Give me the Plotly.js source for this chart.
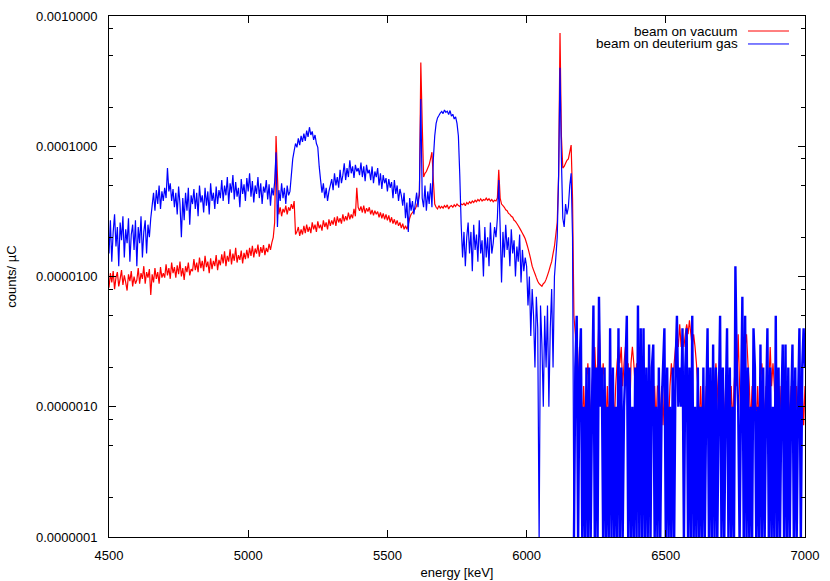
<!DOCTYPE html>
<html>
<head>
<meta charset="utf-8">
<script src="https://cdn.plot.ly/plotly-3.0.1.min.js"></script>
<style>
body { margin: 0; background: #fff; }
#myDiv { width: 830px; height: 581px; }
</style>
</head>
<body>
<div id="myDiv"></div>
<script>
// energy grid in keV: 5 keV channels from 4500 to 7000
var eStart = 4500, eStep = 5;
// above this energy the spectra are only a few counts per channel
var tailStart = 6170;

// counts per uC, in units of 1e-6 (0 = empty channel); one row = 100 keV
var vacuum = [
    8.2, 10.6, 9.0, 11.0, 8.0, 9.8, 10.8, 8.4, 9.6, 11.2, 8.6, 10.2, 9.0, 7.8, 10.4, 9.2, 11.0, 8.4, 10.0, 8.8,
    9.4, 11.6, 8.8, 10.6, 9.6, 12.0, 8.8, 10.8, 9.8, 11.4, 7.2, 10.4, 9.0, 11.6, 9.6, 10.8, 8.8, 11.8, 9.8, 10.6,
    9.8, 12.4, 10.2, 11.6, 9.6, 12.8, 10.6, 11.8, 9.8, 12.2, 10.4, 13.0, 10.0, 11.6, 9.4, 12.0, 10.8, 12.8, 10.2, 11.4,
    11.0, 13.6, 11.2, 12.8, 10.8, 14.0, 11.6, 13.2, 11.0, 14.4, 11.8, 13.0, 10.6, 13.8, 11.4, 13.2, 12.0, 14.6, 11.2, 13.4,
    12.2, 14.8, 12.6, 15.6, 12.0, 14.4, 13.0, 16.2, 12.4, 15.0, 13.2, 16.6, 12.8, 14.6, 13.4, 15.8, 12.6, 15.2, 13.6, 16.0,
    13.8, 16.6, 14.4, 17.2, 14.0, 16.4, 15.0, 17.6, 14.2, 16.8, 15.2, 17.4, 14.6, 16.6, 15.4, 17.8, 16.0, 18.2, 20, 26,
    120, 60, 30, 34, 29, 33, 31, 35, 30, 34, 32, 36, 33, 38, 21, 22, 24, 20.5, 23, 21,
    24.5, 21.5, 25, 22, 24, 21.5, 26, 23, 25, 22, 26.5, 23.5, 25, 22.5, 27, 24, 26, 23, 27.5, 24.5,
    27, 25, 28.5, 24.5, 29, 26, 28, 25.5, 30, 26.5, 29, 27, 31, 27.5, 30, 28, 33, 29, 48, 34,
    32, 34.5, 31, 35, 30.5, 33.5, 31.5, 34, 30, 32.5, 29.5, 32, 30, 31.5, 28.5, 31, 28, 30.5, 27.5, 30,
    27, 29.5, 26, 28.5, 25.5, 27.5, 25, 27, 24.5, 26, 23.5, 25.5, 23, 24.5, 23, 25, 28, 30, 31, 32,
    33, 35, 38, 42, 440, 150, 58, 62, 64, 68, 72, 80, 90, 55, 36, 34, 33, 35, 33.5, 34.5,
    33.5, 35, 34, 35.5, 33, 34.5, 35, 34, 35.5, 34.5, 36, 35, 34.5, 36, 35.5, 36.5, 35, 37, 36, 37.5,
    36.5, 38, 37, 38.5, 37.5, 39, 38, 39.5, 38, 39, 38.5, 40, 38.5, 39.5, 38, 39, 37.5, 38.5, 38, 40,
    66, 40, 36, 35, 34, 32.5, 32, 30.5, 30, 29, 28.5, 27, 26.5, 25.5, 24.5, 23.5, 22.5, 21.5, 20.5, 19.5,
    18, 16.5, 15, 13.5, 12, 11.2, 10.5, 9.8, 9.2, 8.8, 8.6, 8.4, 8.8, 9.0, 9.5, 10.2, 11, 12, 13, 15,
    17, 21, 26, 60, 740, 120, 68, 70, 74, 78, 80, 90, 102, 40, 5,
    3.6, 2.16, 1.44, 2.88, 1.44,
    0.72, 1.44, 0.72, 1.44, 2.16, 1.44, 0.72, 1.44, 2.16, 2.88, 1.44, 2.16, 5.0, 2.16, 1.44, 2.16, 1.44, 0.72, 1.44, 0.72,
    1.44, 0.72, 1.44, 0.72, 1.44, 2.16, 2.88, 2.16, 2.88, 1.44, 2.16, 2.88, 1.44, 2.16, 0.72, 2.16, 2.88, 2.16, 1.44, 2.16,
    1.44, 0.72, 1.44, 0.72, 1.44, 0.72, 1.44, 0.72, 1.44, 0.72, 1.44, 0.72, 1.44, 0.72, 1.44, 1.44, 0.72, 1.44, 0.72, 1.44,
    0.72, 1.44, 0.72, 1.44, 2.16, 1.44, 2.16, 2.88, 3.6, 2.88, 4.3, 2.88, 3.6, 2.88, 3.6, 4.3, 3.6, 4.6, 3.6, 2.88,
    3.6, 2.88, 2.16, 1.44, 0.72, 1.44, 0.72, 1.44, 0.72, 1.44, 0.72, 1.44, 0.72, 1.44, 0.72, 1.44, 2.16, 1.44, 0.72, 1.44,
    0.72, 1.44, 0.72, 1.44, 0.72, 1.44, 0.72, 1.44, 0.72, 1.44, 2.16, 1.44, 3.6, 1.44, 0.72, 1.44, 0.72, 2.88, 3.6, 2.16,
    1.44, 0.72, 1.44, 0.72, 1.44, 0.72, 1.44, 0.72, 1.44, 2.16, 1.44, 0.72, 1.44, 0.72, 1.44, 2.88, 1.44, 2.16, 1.44, 0.72,
    1.44, 0.72, 1.44, 0.72, 1.44, 0.72, 1.44, 0.72, 1.44, 0.72, 1.44, 0.72, 1.44, 0.72, 1.44, 0.72, 1.44, 0.72, 1.44, 0.72,
    1.44
];
var gas = [
    15, 27, 13, 22, 30, 17, 24, 12, 26, 19, 29, 14, 23, 18, 28, 13, 21, 25, 16, 27,
    12, 24, 18, 29, 14, 22, 27, 15, 25, 20, 28, 35, 44, 32, 46, 36, 50, 33, 45, 38,
    48, 40, 68, 45, 52, 38, 47, 34, 44, 30, 49, 36, 20, 40, 27, 44, 32, 48, 25, 42,
    36, 47, 33, 44, 29, 50, 37, 42, 31, 48, 35, 45, 30, 52, 38, 44, 33, 49, 36, 46,
    40, 55, 38, 50, 42, 58, 36, 52, 44, 60, 39, 53, 41, 48, 34, 56, 43, 51, 38, 57,
    45, 62, 41, 54, 37, 50, 43, 58, 40, 52, 36, 49, 44, 55, 39, 51, 35, 48, 42, 53,
    90, 24, 46, 38, 52, 40, 48, 36, 50, 42, 45, 60, 80, 92, 105, 98, 115, 102, 120, 108,
    125, 110, 132, 118, 140, 122, 130, 112, 122, 105, 98, 70, 55, 44, 52, 40, 48, 38, 45, 50,
    56, 46, 62, 50, 58, 48, 66, 52, 60, 74, 55, 68, 58, 78, 62, 70, 57, 72, 64, 68,
    60, 75, 58, 70, 54, 72, 62, 66, 55, 70, 52, 64, 58, 68, 50, 62, 47, 60, 52, 57,
    45, 56, 48, 53, 40, 55, 43, 50, 38, 47, 42, 35, 44, 28, 37, 22, 40, 32, 38, 30,
    36, 44, 34, 46, 230, 40, 34, 50, 32, 45, 36, 52, 34, 80, 120, 150, 165, 172, 180, 185,
    178, 190, 182, 186, 175, 188, 170, 176, 162, 168, 150, 120, 60, 25, 14, 22, 12, 20, 26, 15,
    22, 11, 25, 16, 21, 13, 27, 15, 19, 10, 24, 14, 20, 12, 26, 15, 18, 24, 20, 28,
    55, 24, 9, 22, 14, 25, 16, 20, 12, 23, 15, 19, 10, 17, 13, 21, 9, 16, 11, 14,
    12, 6, 10, 3.5, 8, 5, 2, 7, 4, 0, 6, 3, 1, 5, 2, 6, 1, 4, 8, 2,
    10, 14, 20, 60, 400, 80, 28, 24, 36, 30, 34, 50, 62, 20, 0,
    2, 5, 0, 2, 4,
    0, 1, 0, 2, 0, 2, 0, 1, 6, 0, 2, 0, 7, 1, 2, 0, 2, 0, 1, 0,
    4, 0, 2, 0, 1, 0, 4, 0, 2, 0, 1, 2, 5, 0, 2, 0, 1, 0, 2, 0,
    6, 0, 4, 0, 4, 0, 2, 0, 3, 0, 2, 3, 0, 1, 0, 2, 0, 1, 2, 4,
    0, 2, 0, 1, 0, 2, 0, 2, 5, 1, 2, 1, 4, 0, 2, 4, 0, 2, 0, 5,
    0, 1, 0, 2, 0, 1, 0, 2, 0, 1, 4, 0, 2, 0, 3, 0, 2, 0, 1, 5,
    0, 2, 0, 1, 4, 0, 2, 0, 1, 0, 12, 2, 1, 0, 1, 7, 0, 5, 0, 2,
    0, 1, 0, 4, 2, 0, 1, 0, 3, 0, 2, 0, 1, 4, 0, 2, 0, 1, 0, 5,
    0, 2, 0, 1, 3, 0, 3, 0, 2, 0, 1, 3, 0, 2, 0, 1, 4, 0, 2, 4,
    2
];

var yTickVals = [1e-7, 1e-6, 1e-5, 1e-4, 1e-3];
var yTickText = ['0.0000001', '0.0000010', '0.0000100', '0.0001000', '0.0010000'];
var yMinorVals = [2e-7, 5e-7, 8e-7, 2e-6, 5e-6, 8e-6, 2e-5, 5e-5, 8e-5, 2e-4, 5e-4, 8e-4];

function energies(n) {
    var e = [];
    for (var i = 0; i < n; i++) e.push(eStart + i * eStep);
    return e;
}

// empty channels drop just past the bottom of the log axis, like gnuplot draws them
function scaled(arr) {
    return arr.map(function (v) { return v > 0 ? v * 1e-6 : 9e-8; });
}

var cut = (tailStart - eStart) / eStep;
var gasE = energies(gas.length), gasY = scaled(gas);

var trace0 = {
    x: energies(vacuum.length), y: scaled(vacuum),
    mode: 'lines', type: 'scatter', name: 'beam on vacuum',
    line: {color: '#ff0000', width: 1.2, simplify: false}
};
var trace1 = {
    x: gasE.slice(0, cut + 1), y: gasY.slice(0, cut + 1),
    mode: 'lines', type: 'scatter', name: 'beam on deuterium gas',
    line: {color: '#0000ff', width: 1.2, simplify: false}
};
// the 1 keV channels of the original are packed so tightly here that they read as a solid band
var trace2 = {
    x: gasE.slice(cut), y: gasY.slice(cut),
    mode: 'lines', type: 'scatter', showlegend: false,
    line: {color: '#0000ff', width: 2.4, simplify: false}
};

var font = {family: 'Liberation Sans, Arial, sans-serif', size: 13, color: '#000'};
var legFont = {family: 'Liberation Sans, Arial, sans-serif', size: 13.5, color: '#000'};

var layout = {
    width: 830, height: 581,
    margin: {l: 109, r: 25, t: 16, b: 44},
    paper_bgcolor: '#fff', plot_bgcolor: '#fff',
    font: font,
    showlegend: false,
    xaxis: {
        range: [4500, 7000], tick0: 4500, dtick: 500,
        ticks: 'inside', ticklen: 7, tickcolor: '#000',
        showline: true, linecolor: '#000', linewidth: 1, mirror: 'ticks',
        showgrid: false, zeroline: false,
        ticklabelstandoff: 6,
        title: {text: 'energy [keV]', font: font, standoff: 6}
    },
    yaxis: {
        type: 'log', range: [-7, -3],
        tickmode: 'array', tickvals: yTickVals, ticktext: yTickText,
        ticks: 'inside', ticklen: 7, tickcolor: '#000',
        minor: {tickmode: 'array', tickvals: yMinorVals, ticks: 'inside', ticklen: 4, tickcolor: '#000', showgrid: false},
        showline: true, linecolor: '#000', linewidth: 1, mirror: 'ticks',
        showgrid: false, zeroline: false,
        ticklabelstandoff: 8,
        title: {text: 'counts/ µC', font: font, standoff: 16}
    },
    annotations: [
        {xref: 'paper', yref: 'paper', x: 0.9052, y: 0.9712, xanchor: 'right', yanchor: 'middle',
         text: 'beam on vacuum', showarrow: false, font: legFont, borderpad: 0},
        {xref: 'paper', yref: 'paper', x: 0.9052, y: 0.9463, xanchor: 'right', yanchor: 'middle',
         text: 'beam on deuterium gas', showarrow: false, font: legFont, borderpad: 0}
    ],
    shapes: [
        {type: 'line', xref: 'paper', yref: 'paper', x0: 0.9181, x1: 0.977, y0: 0.9712, y1: 0.9712,
         line: {color: '#ff0000', width: 1}},
        {type: 'line', xref: 'paper', yref: 'paper', x0: 0.9181, x1: 0.977, y0: 0.9463, y1: 0.9463,
         line: {color: '#0000ff', width: 1}}
    ]
};

Plotly.newPlot('myDiv', [trace0, trace1, trace2], layout, {displayModeBar: false, staticPlot: true});
</script>
</body>
</html>
